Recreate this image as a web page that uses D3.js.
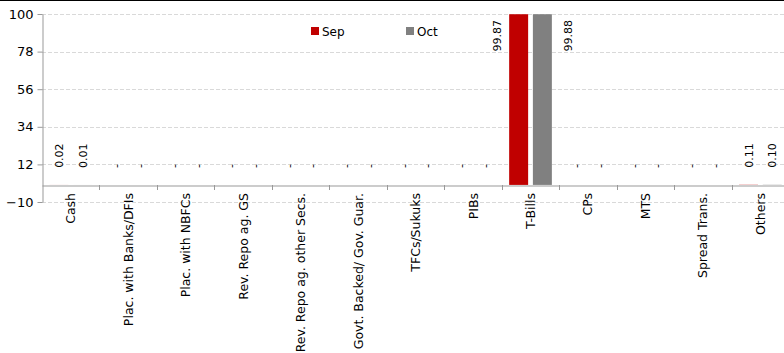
<!DOCTYPE html>
<html>
<head>
<meta charset="utf-8">
<script src="https://cdn.jsdelivr.net/npm/d3@7"></script>
<style>
  html, body { margin: 0; padding: 0; background: #fff; }
  svg { display: block; font-family: "DejaVu Sans", Verdana, sans-serif; }
</style>
</head>
<body>
<svg id="chart" width="784" height="353"></svg>
<script>
const categories = ["Cash", "Plac. with Banks/DFIs", "Plac. with NBFCs", "Rev. Repo ag. GS",
  "Rev. Repo ag. other Secs.", "Govt. Backed/ Gov. Guar.", "TFCs/Sukuks", "PIBs", "T-Bills",
  "CPs", "MTS", "Spread Trans.", "Others"];
const seriesNames = ["Sep", "Oct"];
const sepValues = [0.02, 0, 0, 0, 0, 0, 0, 0, 99.87, 0, 0, 0, 0.11];
const octValues = [0.01, 0, 0, 0, 0, 0, 0, 0, 99.88, 0, 0, 0, 0.10];
const yTicks = [-10, 12, 34, 56, 78, 100];
const colors = ["#c00000", "#808080"];

(function () {
const svg = d3.select("#chart");
const pLeft = 42, pTop = 14, pBottom = 202;
const step = 57.47;
const pRight = pLeft + categories.length * step;

const y = d3.scaleLinear().domain([-10, 100]).range([pBottom, pTop]);
const x0 = d3.scaleBand().domain(categories).range([pLeft, pRight]).padding(0);
const x1 = d3.scaleBand().domain(seriesNames).range([7.4, 50.1]).paddingInner(0.2).paddingOuter(0);

// top border line
svg.append("line").attr("x1", 0).attr("x2", 784).attr("y1", 0.5).attr("y2", 0.5)
  .attr("stroke", "#000").attr("stroke-width", 1);

// gridlines
svg.append("g").selectAll("line").data(yTicks).join("line")
  .attr("x1", pLeft).attr("x2", 784)
  .attr("y1", d => Math.round(y(d)) + 0.5).attr("y2", d => Math.round(y(d)) + 0.5)
  .attr("stroke", "#d9d9d9").attr("stroke-dasharray", "4,2");

// y axis
const yAxis = d3.axisLeft(y).tickValues(yTicks).tickSize(5).tickSizeOuter(0).tickPadding(4);
const gy = svg.append("g").attr("transform", `translate(${pLeft + 0.5},0)`).call(yAxis);
gy.select(".domain").attr("stroke", "#999");
gy.selectAll(".tick line").attr("stroke", "#999");
gy.selectAll(".tick text").attr("font-size", 13).attr("fill", "#000")
  .attr("font-family", "DejaVu Sans, Verdana, sans-serif");

// bars
const data = categories.map((c, i) => ({ cat: c, vals: [sepValues[i], octValues[i]] }));
const groups = svg.append("g").selectAll("g").data(data).join("g")
  .attr("transform", d => `translate(${x0(d.cat)},0)`);
groups.selectAll("rect").data(d => d.vals.map((v, j) => ({ s: seriesNames[j], v, j })))
  .join("rect")
  .attr("x", d => x1(d.s))
  .attr("width", x1.bandwidth())
  .attr("y", d => y(Math.min(100, d.v)))
  .attr("height", d => y(0) - y(Math.min(100, d.v)))
  .attr("fill", d => colors[d.j]);

// x axis at 0
const xAxis = d3.axisBottom(x0).tickSize(0).tickFormat("");
const gx = svg.append("g").attr("transform", `translate(0,${Math.round(y(0)) + 0.5})`).call(xAxis);
gx.select(".domain").attr("stroke", "#999");
const boundaries = d3.range(categories.length).map(i => pLeft + (i + 1) * step);
svg.append("g").selectAll("line").data(boundaries).join("line")
  .attr("x1", d => Math.round(d) + 0.5).attr("x2", d => Math.round(d) + 0.5)
  .attr("y1", Math.round(y(0))).attr("y2", Math.round(y(0)) + 5)
  .attr("stroke", "#999");

// category labels
svg.append("g").selectAll("text").data(categories).join("text")
  .attr("transform", d => `translate(${x0(d) + step / 2 + 4.5},${Math.round(y(0)) + 8}) rotate(-90)`)
  .attr("text-anchor", "end")
  .attr("font-size", 12.5)
  .attr("fill", "#000")
  .text(d => d);

// data labels
const fmt = v => v === 0 ? "-" : d3.format(".2f")(v);
const labelData = [];
data.forEach(d => d.vals.forEach((v, j) => {
  const cx = x0(d.cat) + x1(seriesNames[j]) + x1.bandwidth() / 2;
  labelData.push({ v, j, cx, bx: x0(d.cat) + x1(seriesNames[j]), bw: x1.bandwidth() });
}));
svg.append("g").selectAll("text").data(labelData).join("text")
  .attr("transform", d => {
    if (d.v > 90) {
      const lx = d.j === 0 ? d.bx - 12 : d.bx + d.bw + 16;
      return `translate(${lx + 4},${pTop + 6}) rotate(-90)`;
    }
    return `translate(${d.cx + 4},${y(d.v) - 17}) rotate(-90)`;
  })
  .attr("text-anchor", d => d.v > 90 ? "end" : "start")
  .attr("font-size", 11)
  .attr("fill", "#000")
  .text(d => fmt(d.v));

// legend
const legend = svg.append("g");
const legendX = [311, 406];
seriesNames.forEach((s, i) => {
  legend.append("rect").attr("x", legendX[i]).attr("y", 27).attr("width", 8).attr("height", 8)
    .attr("fill", colors[i]);
  legend.append("text").attr("x", legendX[i] + 11).attr("y", 35.5)
    .attr("font-size", 12).attr("fill", "#000").text(s);
});
})();
</script>
</body>
</html>
